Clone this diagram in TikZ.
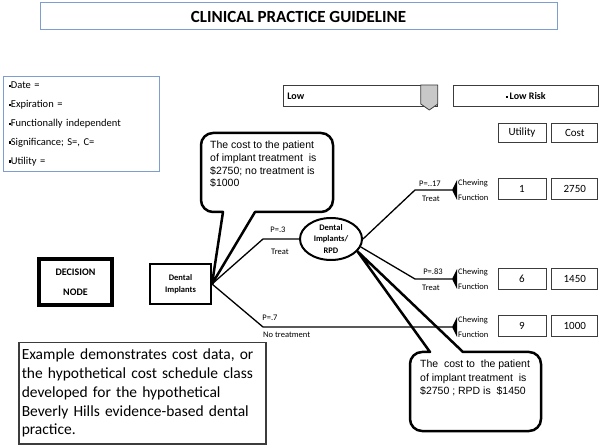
\documentclass[tikz,border=0pt]{standalone}
\usepackage{fontspec}
\setmainfont{Carlito}
\newfontfamily\calloutfont{Liberation Sans}
\usetikzlibrary{positioning,shapes.geometric}
\definecolor{guideBlue}{RGB}{126,158,210}
\definecolor{guideGray}{RGB}{200,200,200}
\definecolor{guideDark}{RGB}{60,60,60}
\newcommand{\sqitem}{\rule[0.3ex]{2.4pt}{2.4pt}}

\begin{document}
\begin{tikzpicture}[x=1pt, y=-1pt,
    bluebox/.style={draw=guideBlue, line width=1pt},
    cellbox/.style={draw=guideDark, line width=0.8pt, minimum height=21pt, inner sep=0pt, font=\fontsize{11}{13}\selectfont},
    treeline/.style={line width=1.3pt},
    branchlabel/.style={font=\fontsize{8.5}{9}\selectfont, inner sep=0pt},
    callout/.style={line width=2.5pt, line join=round},
    callouttext/.style={font=\calloutfont\fontsize{10.5}{12.7}\selectfont, align=left, anchor=north west, inner sep=0pt}]

    \useasboundingbox (0,0) rectangle (600,446);

    \node[bluebox, minimum width=517pt, minimum height=27pt, font=\bfseries\fontsize{17}{20}\selectfont] (title) at (298.5,16.5) {CLINICAL PRACTICE GUIDELINE};

    \node[bluebox, anchor=north west, minimum width=156pt, minimum height=95pt, text width=146pt, inner sep=5pt, align=left, font=\fontsize{10.5}{18.8}\selectfont] (info) at (3,76) {\sqitem Date =\\\sqitem Expiration =\\\sqitem Functionally independent\\\sqitem Significance; S=, C=\\\sqitem Utility =};

    \node[cellbox, anchor=north west, minimum width=154pt, text width=146pt, inner sep=4pt, align=left, font=\bfseries\fontsize{10}{12}\selectfont] (low) at (283,85) {Low};
    \filldraw[fill=guideGray, draw=guideDark, line width=0.8pt] (low.north east) -- ++(-17,0) -- ++(0,19) -- ++(8.5,6) -- ++(8.5,-6) -- cycle;
    \node[cellbox, minimum width=145pt, font=\bfseries\fontsize{10}{12}\selectfont, right=15pt of low] (risk) {\sqitem\,Low Risk};

    \node[cellbox, minimum width=48pt, minimum height=19pt] (utility) at (522,132.5) {Utility};
    \node[cellbox, minimum width=46pt, minimum height=19pt, right=5pt of utility] (cost) {Cost};
    \foreach \name/\y/\u/\c in {a/188.5/1/2750, b/279/6/1450, c/325.5/9/1000} {
        \node[cellbox, minimum width=48pt] (u\name) at (522,\y) {\u};
        \node[cellbox, minimum width=46pt, right=5pt of u\name] (c\name) {\c};
    }

    \node[draw, line width=4pt, minimum width=73pt, minimum height=46pt, align=center, font=\bfseries\fontsize{10}{20}\selectfont] (decision) at (75.5,282) {DECISION\\NODE};
    \node[draw, line width=2pt, minimum width=61pt, minimum height=40pt, align=center, font=\bfseries\fontsize{8.5}{12}\selectfont] (dental) at (180.5,284) {Dental\\Implants};
    \node[ellipse, draw, line width=2pt, minimum width=62pt, minimum height=42pt, inner sep=0pt, align=center, font=\bfseries\fontsize{8.5}{11.5}\selectfont] (rpd) at (331,239) {Dental\\Implants/\\RPD};

    \coordinate (k1) at (263,239);
    \coordinate (k3) at (263,327);
    \coordinate (k4) at (415,190);
    \coordinate (k5) at (415,279);
    \coordinate (t1) at (452,190);
    \coordinate (t2) at (452,279);
    \coordinate (t3) at (452,327);

    \draw[treeline] (dental.east) -- (k1) -- (rpd.west);
    \draw[treeline] (dental.east) -- (k3) -- (t3);
    \draw[treeline] (rpd.east) -- (k4) -- (t1);
    \draw[treeline] (rpd.-15) -- (k5) -- (t2);

    \foreach \t in {t1,t2,t3} {
        \fill (\t) -- ([shift={(5,-10)}]\t) -- ([shift={(5,10)}]\t) -- cycle;
        \node[branchlabel, anchor=west] (chew\t) at ([shift={(6,-7)}]\t) {Chewing};
        \node[branchlabel, anchor=west] (func\t) at ([shift={(6,8)}]\t) {Function};
    }

    \node[branchlabel] (p1) at (278,230) {P=.3};
    \node[branchlabel] (treat1) at (280,252) {Treat};
    \node[branchlabel] (p2) at (270,318) {P=.7};
    \node[branchlabel, anchor=west] (notreat) at (263,335) {No treatment};
    \node[branchlabel] (p3) at (430,184) {P=..17};
    \node[branchlabel] (treat3) at (431,199) {Treat};
    \node[branchlabel] (p4) at (433,272) {P=.83};
    \node[branchlabel] (treat4) at (431,288) {Treat};

    \draw[callout] (dental.east) [sharp corners] -- (255,212) [rounded corners=12pt] -- (333,212) -- (333,133) -- (201,133) -- (201,212) [sharp corners] -- (223,212) -- cycle;
    \node[callouttext] (note1) at (210,141) {The cost to the patient\\of implant treatment~ is\\\$2750; no treatment is\\\$1000};

    \draw[callout] (rpd.-25) [sharp corners] -- (430,352) [rounded corners=12pt] -- (410,352) -- (410,431) -- (541,431) -- (541,352) [sharp corners] -- (463,352) -- cycle;
    \node[callouttext, font=\calloutfont\fontsize{10.5}{13.5}\selectfont] (note2) at (420,360) {The~ cost to~ the patient\\of implant treatment~ is\\\$2750 ; RPD is~ \$1450};

    \node[draw=guideDark, line width=1.5pt, anchor=north west, minimum width=247pt, minimum height=101pt, text width=241pt, inner sep=3pt, align=left, font=\fontsize{15.5}{18.8}\selectfont] (example) at (18,342) {Example demonstrates cost data, or\\the hypothetical cost schedule class\\developed for the hypothetical\\Beverly Hills evidence-based dental\\practice.};
\end{tikzpicture}
\end{document}
